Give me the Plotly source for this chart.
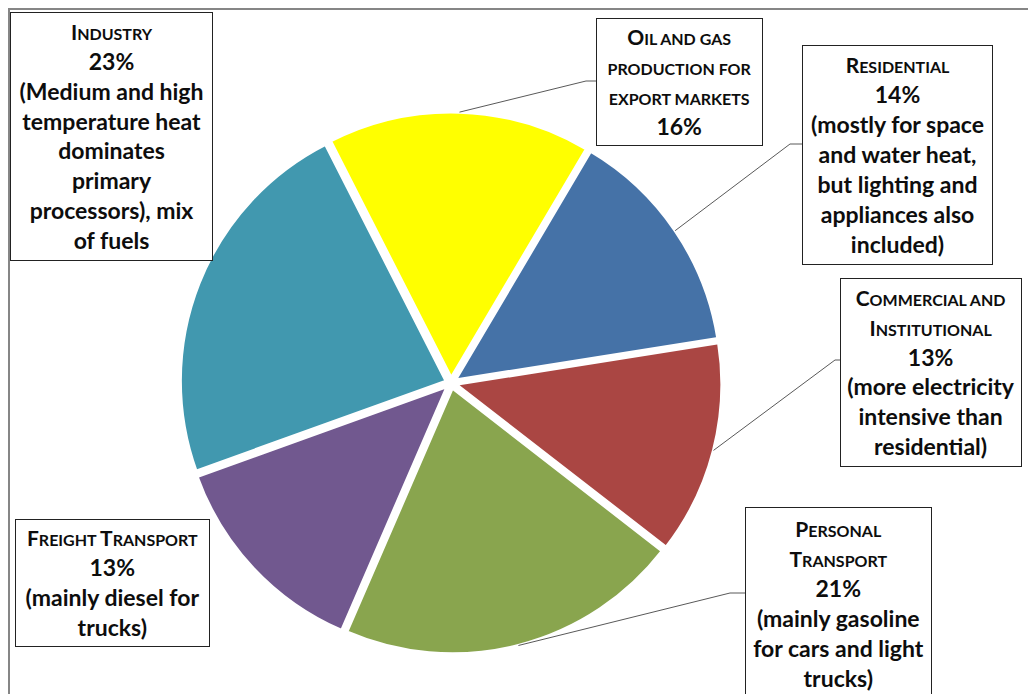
import math
import plotly.graph_objects as go

W, H = 1028, 694

# Energy use by sector (share of total, %)
sectors = ["Oil and gas production for export markets", "Residential",
           "Commercial and Institutional", "Personal Transport",
           "Freight Transport", "Industry"]
shares = [16, 14, 13, 21, 13, 23]
colors = ["#FFFF00", "#4572A7", "#AA4643", "#89A54E", "#71588F", "#4198AF"]

# Box headings (broken into lines) and explanatory notes
titles = [
    ["Oil and gas", "production for", "export markets"],
    ["Residential"],
    ["Commercial and", "Institutional"],
    ["Personal", "Transport"],
    ["Freight Transport"],
    ["Industry"],
]
notes = [
    [],
    ["(mostly for space", "and water heat,", "but lighting and", "appliances also", "included)"],
    ["(more electricity", "intensive than", "residential)"],
    ["(mainly gasoline", "for cars and light", "trucks)"],
    ["(mainly diesel for", "trucks)"],
    ["(Medium and high", "temperature heat", "dominates", "primary", "processors), mix", "of fuels"],
]

# Label boxes in pixels: (left, top, right, bottom)
boxes = [
    (596, 18, 763, 146),
    (802, 45, 993, 265),
    (840, 278, 1022, 467),
    (745, 507, 932, 701),
    (15, 519, 210, 647),
    (10, 12, 213, 261),
]
# Elbow point of each leader line (None = no leader)
elbows = [(586, 81), (790, 144), (835, 360), (730, 593), None, None]

ROTATION = -27          # first slice starts 27 degrees left of 12 o'clock
PULL = 0.02
CX, CY, R_OUT = 451, 383, 271   # pie centre and outer reach in pixels

BODY = 23
BIG, SMALL = 21, 16


def px(x):
    return x / W


def py(y):
    return 1 - y / H


def small_caps(text):
    out = []
    for ch in text:
        if ch.isupper():
            out.append(f"<span style='font-size:{BIG}px'>{ch}</span>")
        elif ch.islower():
            out.append(f"<span style='font-size:{SMALL}px'>{ch.upper()}</span>")
        else:
            out.append(f"<span style='font-size:{SMALL}px'>{ch}</span>")
    return "".join(out)


fig = go.Figure(go.Pie(
    labels=sectors,
    values=shares,
    marker=dict(colors=colors, line=dict(color="white", width=3)),
    sort=False,
    direction="clockwise",
    rotation=ROTATION,
    pull=[PULL] * len(shares),
    textinfo="none",
    hoverinfo="label+percent",
    showlegend=False,
    domain=dict(x=[px(CX - R_OUT), px(CX + R_OUT)],
                y=[py(CY + R_OUT), py(CY - R_OUT)]),
))

annotations = []
shapes = []
total = sum(shares)
start = ROTATION
for i, name in enumerate(sectors):
    span = shares[i] / total * 360
    mid = math.radians(start + span / 2)
    start += span

    l, t, r, b = boxes[i]
    lines = [small_caps(s) for s in titles[i]] + [f"{shares[i]}%"] + notes[i]
    annotations.append(dict(
        x=px((l + r) / 2), y=py((t + b) / 2), xref="paper", yref="paper",
        xanchor="center", yanchor="middle",
        width=r - l - 2, height=b - t - 2,
        text="<br>".join(lines), showarrow=False,
        align="center", valign="middle",
        font=dict(family="Lato", size=BODY, color="#0d0d0d", weight=700),
        bordercolor="#222222", borderwidth=1, borderpad=0, bgcolor="white",
    ))

    if elbows[i] is not None:
        sx = CX + R_OUT * math.sin(mid)
        sy = CY - R_OUT * math.cos(mid)
        ex, ey = elbows[i]
        bx = l if l > ex else r
        shapes.append(dict(
            type="path", xref="paper", yref="paper",
            path=f"M {px(sx)},{py(sy)} L {px(ex)},{py(ey)} L {px(bx)},{py(ey)}",
            line=dict(color="#595959", width=1),
        ))

# chart area frame
shapes.append(dict(type="rect", xref="paper", yref="paper",
                   x0=px(9), y0=py(9), x1=px(1040), y1=py(710),
                   line=dict(color="#868686", width=2), layer="below"))

fig.update_layout(
    width=W, height=H,
    margin=dict(l=0, r=0, t=0, b=0),
    paper_bgcolor="white", plot_bgcolor="white",
    annotations=annotations, shapes=shapes,
)

fig.write_html("out.html")
